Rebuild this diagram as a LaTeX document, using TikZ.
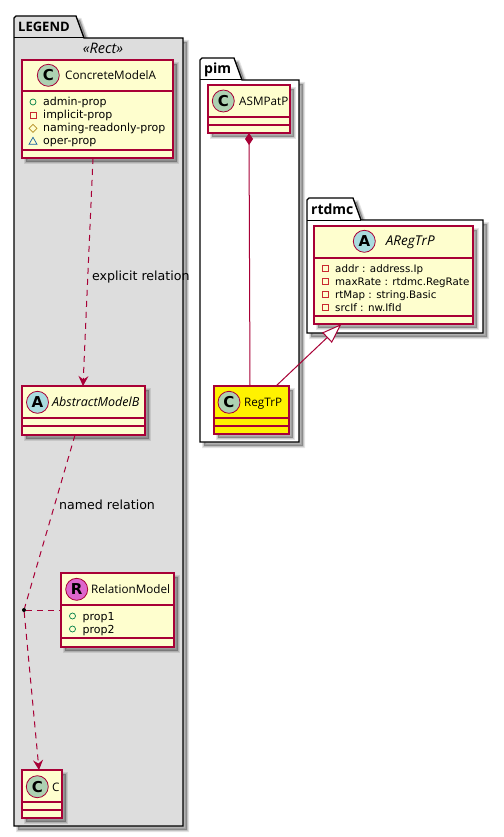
\documentclass[tikz,border=0pt]{standalone}
\usepackage{fontspec}
\setmainfont{DejaVu Sans}
\newfontfamily\namefont{Open Sans}
\usetikzlibrary{arrows.meta,calc}
\definecolor{umlline}{HTML}{A80036}
\definecolor{umlfill}{HTML}{FEFECE}
\definecolor{pkggray}{HTML}{DDDDDD}
\definecolor{spotC}{HTML}{ADD1B2}
\definecolor{spotA}{HTML}{A9DCDF}
\definecolor{spotR}{HTML}{DD66CC}
\definecolor{pubcol}{HTML}{038048}
\definecolor{privcol}{HTML}{C82930}
\definecolor{protcol}{HTML}{B38D22}
\definecolor{packcol}{HTML}{1963A0}
\tikzset{
  softshadow/.style={
    preaction={draw=black,fill=black,draw opacity=.10,fill opacity=.30,line width=4pt,transform canvas={shift={(4pt,-4pt)}}},
    preaction={draw=black,draw opacity=.12,line width=2pt,transform canvas={shift={(4pt,-4pt)}}}},
  pkgbox/.style={draw=black,line width=1.3pt,softshadow},
  pkgtab/.style={draw=black,line width=1pt,line join=round},
  pkgtitle/.style={anchor=base west,inner sep=0pt,font=\namefont\fontsize{14}{16}\selectfont\bfseries},
  cls/.style={draw=umlline,fill=umlfill,line width=1.15pt,inner sep=0pt,outer sep=0pt,softshadow},
  sep/.style={draw=umlline,line width=1.15pt},
  spot/.style={circle,draw=umlline,line width=0.8pt,minimum size=22pt,inner sep=0pt,font=\fontsize{15}{15}\selectfont\bfseries},
  cname/.style={anchor=base west,inner sep=0pt,font=\namefont\fontsize{11.7}{14}\selectfont},
  cnamei/.style={anchor=base west,inner sep=0pt,font=\namefont\fontsize{12.5}{14}\selectfont\itshape},
  field/.style={anchor=base west,inner sep=0pt,font=\fontsize{11}{12}\selectfont},
  fieldsmall/.style={anchor=base west,inner sep=0pt,font=\fontsize{10.3}{12}\selectfont},
  lbl/.style={anchor=base west,inner sep=0pt,font=\fontsize{12.6}{14}\selectfont},
  conn/.style={draw=umlline,line width=1pt},
  dashconn/.style={conn,dash pattern=on 6pt off 5pt},
  vtip/.style={-{Stealth[length=10pt,width=10pt,inset=3.5pt,fill=umlline]}},
  pubicon/.style={draw=pubcol,line width=0.7pt},
  privicon/.style={draw=privcol,line width=0.7pt},
  proticon/.style={draw=protcol,line width=0.7pt},
  packicon/.style={draw=packcol,line width=0.7pt},
}
\newcommand{\pubic}[2]{\draw[pubicon] (#1,#2) circle (3pt);}
\newcommand{\privic}[2]{\draw[privicon] ($(#1,#2)+(-3,-3)$) rectangle ($(#1,#2)+(3,3)$);}
\newcommand{\protic}[2]{\draw[proticon] ($(#1,#2)+(-4,0)$) -- ($(#1,#2)+(0,-4)$) -- ($(#1,#2)+(4,0)$) -- ($(#1,#2)+(0,4)$) -- cycle;}
\newcommand{\packic}[2]{\draw[packicon] ($(#1,#2)+(-4,3)$) -- ($(#1,#2)+(0,-4)$) -- ($(#1,#2)+(4,3)$) -- cycle;}
\begin{document}
\begin{tikzpicture}[x=1pt,y=-1pt]
\path[use as bounding box,fill=white] (0,0) rectangle (503,837);

% packages
\path[pkgbox,fill=pkggray] (14,38) -- (14,18) -- (16,16) -- (76,16) -- (84,38) -- (183,38) -- (183,826) -- (14,826) -- cycle;
\draw[pkgtab] (14,38) -- (84,38);
\node[pkgtitle,font=\namefont\fontsize{13}{16}\selectfont\bfseries] (legendtitle) at (18,32) {LEGEND};
\node[anchor=base,inner sep=0pt,font=\namefont\fontsize{14.5}{16}\selectfont\itshape] (stereo) at (103,54) {«Rect»};

\path[pkgbox,fill=white] (200,80) -- (200,60) -- (202,58) -- (234,58) -- (242,80) -- (299,80) -- (299,442) -- (200,442) -- cycle;
\draw[pkgtab] (200,80) -- (242,80);
\node[pkgtitle] (pimtitle) at (204,74) {pim};

\path[pkgbox,fill=white] (307,220) -- (307,200) -- (309,198) -- (353,198) -- (361,220) -- (483,220) -- (483,333) -- (307,333) -- cycle;
\draw[pkgtab] (307,220) -- (361,220);
\node[pkgtitle] (rtdmctitle) at (311,214) {rtdmc};

% classes
\node[cls,minimum width=151pt,minimum height=98pt] (concrete) at (97.5,109) {};
\draw[sep] (concrete.west |- 0,91) -- (concrete.east |- 0,91);
\draw[sep] (concrete.west |- 0,150) -- (concrete.east |- 0,150);
\node[spot,fill=spotC] (spotconcrete) at (48.3,75.3) {C};
\node[cname] (nameconcrete) at (65,79.5) {ConcreteModelA};
\pubic{33}{102}\privic{33}{115.3}\protic{33}{128.3}\packic{33}{141.3}
\node[field] (f1) at (43,106) {admin-prop};
\node[field] (f2) at (43,119) {implicit-prop};
\node[field] (f3) at (43,132) {naming-readonly-prop};
\node[field] (f4) at (43,145) {oper-prop};

\node[cls,minimum width=123pt,minimum height=49pt] (abstract) at (83.5,410.5) {};
\draw[sep] (abstract.west |- 0,418) -- (abstract.east |- 0,418);
\draw[sep] (abstract.west |- 0,426) -- (abstract.east |- 0,426);
\node[spot,fill=spotA] (spotabstract) at (37.5,402.3) {A};
\node[cnamei] (nameabstract) at (52,406.5) {AbstractModelB};

\node[cls,minimum width=113pt,minimum height=74pt] (relation) at (117.5,610) {};
\draw[sep] (relation.west |- 0,605) -- (relation.east |- 0,605);
\draw[sep] (relation.west |- 0,638) -- (relation.east |- 0,638);
\node[spot,fill=spotR] (spotrelation) at (76.7,589.3) {R};
\node[cname] (namerelation) at (91,593.5) {RelationModel};
\pubic{72.5}{616}\pubic{72.5}{629}
\node[field] (p1) at (82.5,620) {prop1};
\node[field] (p2) at (82.5,633) {prop2};

\node[cls,minimum width=40pt,minimum height=48pt] (cclass) at (42,794) {};
\draw[sep] (cclass.west |- 0,802) -- (cclass.east |- 0,802);
\draw[sep] (cclass.west |- 0,810) -- (cclass.east |- 0,810);
\node[spot,fill=spotC] (spotc) at (37.3,786.7) {C};
\node[cname] (namec) at (52,791) {C};

\node[cls,minimum width=82pt,minimum height=48pt] (asm) at (249,109) {};
\draw[sep] (asm.west |- 0,117) -- (asm.east |- 0,117);
\draw[sep] (asm.west |- 0,125) -- (asm.east |- 0,125);
\node[spot,fill=spotC] (spotasm) at (223.3,101) {C};
\node[cname] (nameasm) at (239,105.2) {ASMPatP};

\node[cls,fill=yellow,minimum width=75pt,minimum height=48pt] (reg) at (251.5,410) {};
\draw[sep] (reg.west |- 0,418) -- (reg.east |- 0,418);
\draw[sep] (reg.west |- 0,426) -- (reg.east |- 0,426);
\node[spot,fill=spotC] (spotreg) at (229,402.3) {C};
\node[cname] (namereg) at (244,406.5) {RegTrP};

\node[cls,minimum width=159pt,minimum height=98pt] (areg) at (393.5,275) {};
\draw[sep] (areg.west |- 0,258) -- (areg.east |- 0,258);
\draw[sep] (areg.west |- 0,316) -- (areg.east |- 0,316);
\node[spot,fill=spotA] (spotareg) at (364.3,241.3) {A};
\node[cnamei,font=\namefont\fontsize{13.5}{14}\selectfont\itshape] (nameareg) at (385.7,245.5) {ARegTrP};
\privic{325.7}{268.3}\privic{325.7}{281.3}\privic{325.7}{294.3}\privic{325.7}{307.3}
\node[fieldsmall] (a1) at (335,272) {addr : address.Ip};
\node[fieldsmall] (a2) at (335,285) {maxRate : rtdmc.RegRate};
\node[fieldsmall] (a3) at (335,298) {rtMap : string.Basic};
\node[fieldsmall] (a4) at (335,311) {srcIf : nw.IfId};

% connectors
\node[circle,inner sep=0pt,minimum size=3.5pt] (dot) at (24,610) {};
\draw[dashconn,vtip] ([xshift=-4.5pt]concrete.south) -- ([xshift=-0.5pt]abstract.north);
\draw[dashconn] ([xshift=-8.5pt]abstract.south) -- (dot);
\draw[dashconn,vtip] (dot) -- ([xshift=-3pt]cclass.north);
\draw[dashconn] (dot) -- (relation.west);
\fill[black] (dot.center) circle (2pt);
\draw[conn,{Diamond[length=12pt,width=8pt,fill=umlline]}-] (asm.south) -- ([xshift=-1.5pt]reg.north);
\draw[conn,-{Triangle[length=20pt,width=14pt,fill=white]}] ([xshift=24.5pt]reg.north) -- ([xshift=-52pt]areg.south);

\node[lbl] (explicit) at (92,280) {explicit relation};
\node[lbl] (named) at (59,509) {named relation};
\end{tikzpicture}
\end{document}
